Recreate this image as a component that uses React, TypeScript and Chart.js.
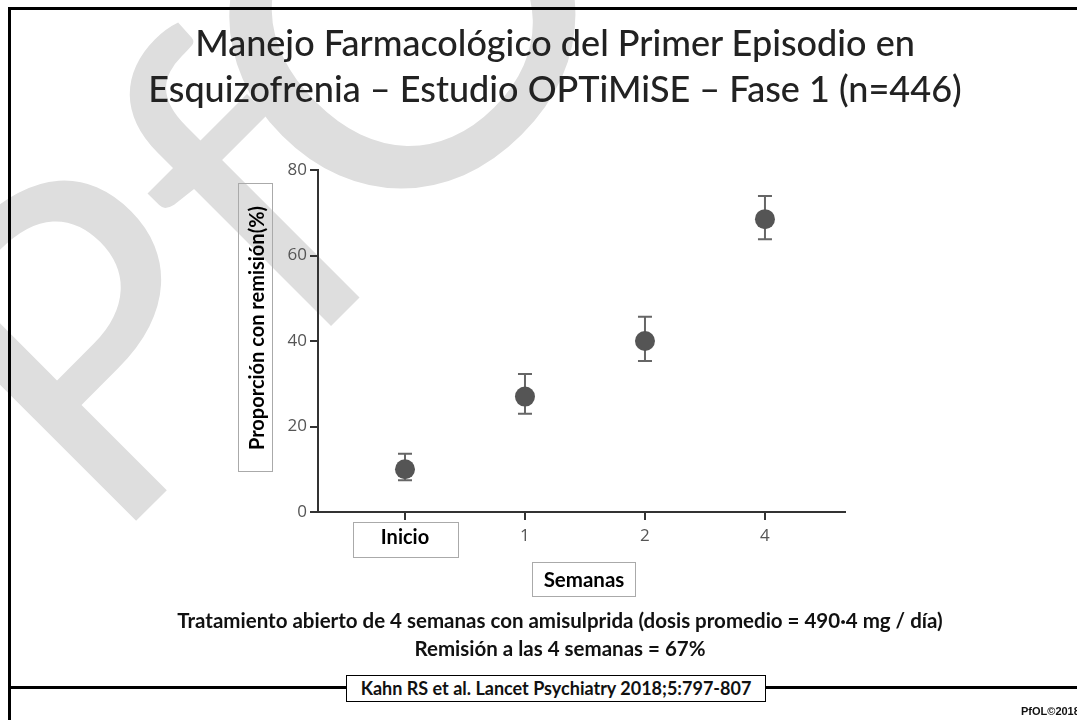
import { useEffect, useRef } from 'react';
import { Chart, registerables } from 'chart.js';

Chart.register(...registerables);

const categories = ['Inicio', '1', '2', '4'];
const remission = [10, 27, 40, 68.5];
const errLow = [7.4, 23, 35.3, 63.8];
const errHigh = [13.6, 32.3, 45.7, 73.9];
const yTicks = [0, 20, 40, 60, 80];

const watermarkPlugin = {
  id: 'watermark',
  beforeDraw(chart: any) {
    const ctx = chart.ctx;
    ctx.save();
    ctx.fillStyle = '#dedede';
    ctx.textBaseline = 'alphabetic';
    ctx.translate(107, 550);
    ctx.rotate(-Math.PI / 4);
    ctx.font = '400 450px Lato';
    ctx.fillText('Pf', 0, 0);
    ctx.restore();

    ctx.save();
    ctx.fillStyle = '#dedede';
    ctx.textBaseline = 'alphabetic';
    ctx.font = '400 470px Lato';
    const m = ctx.measureText('O');
    const w = m.actualBoundingBoxRight + m.actualBoundingBoxLeft;
    const h = m.actualBoundingBoxAscent + m.actualBoundingBoxDescent;
    const cx = (m.actualBoundingBoxRight - m.actualBoundingBoxLeft) / 2;
    const cy = (m.actualBoundingBoxDescent - m.actualBoundingBoxAscent) / 2;
    ctx.translate(404, 13);
    ctx.rotate(-Math.PI / 4);
    ctx.scale(346 / w, 346 / h);
    ctx.fillText('O', -cx, -cy);
    ctx.restore();
  },
};

const errorBarPlugin = {
  id: 'errorBars',
  beforeDatasetsDraw(chart: any) {
    const ctx = chart.ctx;
    const xs = chart.scales.x;
    const ys = chart.scales.y;
    ctx.save();
    ctx.strokeStyle = '#666';
    ctx.lineWidth = 2;
    remission.forEach((_, i) => {
      const x = xs.getPixelForValue(i);
      const y1 = ys.getPixelForValue(errLow[i]);
      const y2 = ys.getPixelForValue(errHigh[i]);
      ctx.beginPath();
      ctx.moveTo(x, y1);
      ctx.lineTo(x, y2);
      ctx.moveTo(x - 7, y1);
      ctx.lineTo(x + 7, y1);
      ctx.moveTo(x - 7, y2);
      ctx.lineTo(x + 7, y2);
      ctx.stroke();
    });
    ctx.restore();
  },
  afterDraw(chart: any) {
    const ctx = chart.ctx;
    const xs = chart.scales.x;
    const x = xs.getPixelForValue(0);
    ctx.save();
    ctx.strokeStyle = '#aaa';
    ctx.lineWidth = 1;
    ctx.strokeRect(Math.round(x - 52) + 0.5, 522.5, 105, 35);
    ctx.restore();
  },
};

export default function App() {
  const ref = useRef<HTMLCanvasElement | null>(null);

  useEffect(() => {
    if (!ref.current) return;
    const chart = new Chart(ref.current, {
      type: 'scatter',
      data: {
        datasets: [
          {
            data: remission.map((v, i) => ({ x: i, y: v })),
            pointRadius: 10,
            pointHoverRadius: 10,
            backgroundColor: '#555555',
            borderWidth: 0,
            showLine: false,
          },
        ],
      },
      plugins: [watermarkPlugin, errorBarPlugin],
      options: {
        animation: false,
        responsive: false,
        devicePixelRatio: 1,
        layout: { padding: { left: 258, top: 170, right: 232, bottom: 168 } },
        plugins: { legend: { display: false }, tooltip: { enabled: false }, title: { display: false } },
        scales: {
          x: {
            type: 'linear',
            min: -0.725,
            max: 3.667,
            afterBuildTicks: (scale: any) => {
              scale.ticks = categories.map((_, i) => ({ value: i }));
            },
            afterFit: (scale: any) => {
              scale.height = 40;
            },
            border: { display: true, color: '#333', width: 2 },
            grid: { drawOnChartArea: false, drawTicks: true, tickLength: 8, color: '#333', lineWidth: 2 },
            ticks: {
              padding: 6,
              autoSkip: false,
              maxRotation: 0,
              callback: (value: any) => categories[value] ?? '',
              color: (c: any) => (c.index === 0 ? '#000' : '#555'),
              font: (c: any) =>
                c.index === 0
                  ? { family: 'Lato', size: 20, weight: 'bold' }
                  : { family: 'Open Sans', size: 17 },
            },
          },
          y: {
            min: 0,
            max: 80,
            afterBuildTicks: (scale: any) => {
              scale.ticks = yTicks.map((v) => ({ value: v }));
            },
            afterFit: (scale: any) => {
              scale.width = 60;
            },
            border: { display: true, color: '#333', width: 2 },
            grid: { drawOnChartArea: false, drawTicks: true, tickLength: 8, color: '#333', lineWidth: 2 },
            ticks: {
              padding: 3,
              color: '#555',
              font: { family: 'Open Sans', size: 17 },
            },
          },
        },
      },
    });
    return () => chart.destroy();
  }, []);

  const bold: any = { fontFamily: 'Lato, sans-serif', fontWeight: 700, color: '#111' };

  return (
    <div style={{ position: 'fixed', left: 0, top: 0, width: 1077, height: 720, background: '#fff', overflow: 'hidden' }}>
      <canvas ref={ref} width={1077} height={720} style={{ position: 'absolute', left: 0, top: 0 }} />
      {/* frame */}
      <div style={{ position: 'absolute', left: 8, top: 7, width: 1069, height: 3, background: '#000' }} />
      <div style={{ position: 'absolute', left: 8, top: 7, width: 3, height: 713, background: '#000' }} />
      <div style={{ position: 'absolute', left: 8, top: 686, width: 1069, height: 3, background: '#000' }} />
      {/* title */}
      <div
        style={{
          position: 'absolute',
          left: 0,
          width: 1110,
          top: 19,
          textAlign: 'center',
          fontFamily: 'Lato, sans-serif',
          fontWeight: 500,
          fontSize: 36,
          lineHeight: '46px',
          color: '#222',
        }}
      >
        Manejo Farmacológico del Primer Episodio en
        <br />
        Esquizofrenia – Estudio OPTiMiSE – Fase 1 (n=446)
      </div>
      {/* y title box */}
      <div
        style={{
          position: 'absolute',
          left: 238,
          top: 183,
          width: 35,
          height: 289,
          border: '1px solid #aaa',
          boxSizing: 'border-box',
        }}
      >
        <div
          style={{
            ...bold,
            position: 'absolute',
            left: '50%',
            top: '50%',
            transform: 'translate(-50%, -50%) rotate(-90deg)',
            whiteSpace: 'nowrap',
            fontSize: 20,
            color: '#000',
          }}
        >
          Proporción con remisión(%)
        </div>
      </div>
      {/* Semanas box */}
      <div
        style={{
          ...bold,
          position: 'absolute',
          left: 532,
          top: 562,
          width: 104,
          height: 35,
          border: '1px solid #aaa',
          boxSizing: 'border-box',
          fontSize: 20.5,
          lineHeight: '33px',
          textAlign: 'center',
          color: '#000',
        }}
      >
        Semanas
      </div>
      {/* footnotes */}
      <div
        style={{
          ...bold,
          position: 'absolute',
          left: 0,
          width: 1120,
          top: 606,
          textAlign: 'center',
          fontSize: 20.5,
          lineHeight: '28px',
        }}
      >
        Tratamiento abierto de 4 semanas con amisulprida (dosis promedio = 490·4 mg / día)
        <br />
        Remisión a las 4 semanas = 67%
      </div>
      {/* citation */}
      <div
        style={{
          ...bold,
          position: 'absolute',
          left: 346,
          top: 675,
          width: 420,
          height: 27,
          background: '#fff',
          border: '1.5px solid #000',
          boxSizing: 'border-box',
          fontSize: 18,
          lineHeight: '24px',
          textAlign: 'center',
        }}
      >
        Kahn RS et al. Lancet Psychiatry 2018;5:797-807
      </div>
      <div
        style={{
          position: 'absolute',
          left: 1021,
          top: 705,
          fontFamily: 'Arial, Liberation Sans, sans-serif',
          fontWeight: 700,
          fontSize: 11,
          color: '#111',
          whiteSpace: 'nowrap',
        }}
      >
        PfOL©2018
      </div>
    </div>
  );
}
